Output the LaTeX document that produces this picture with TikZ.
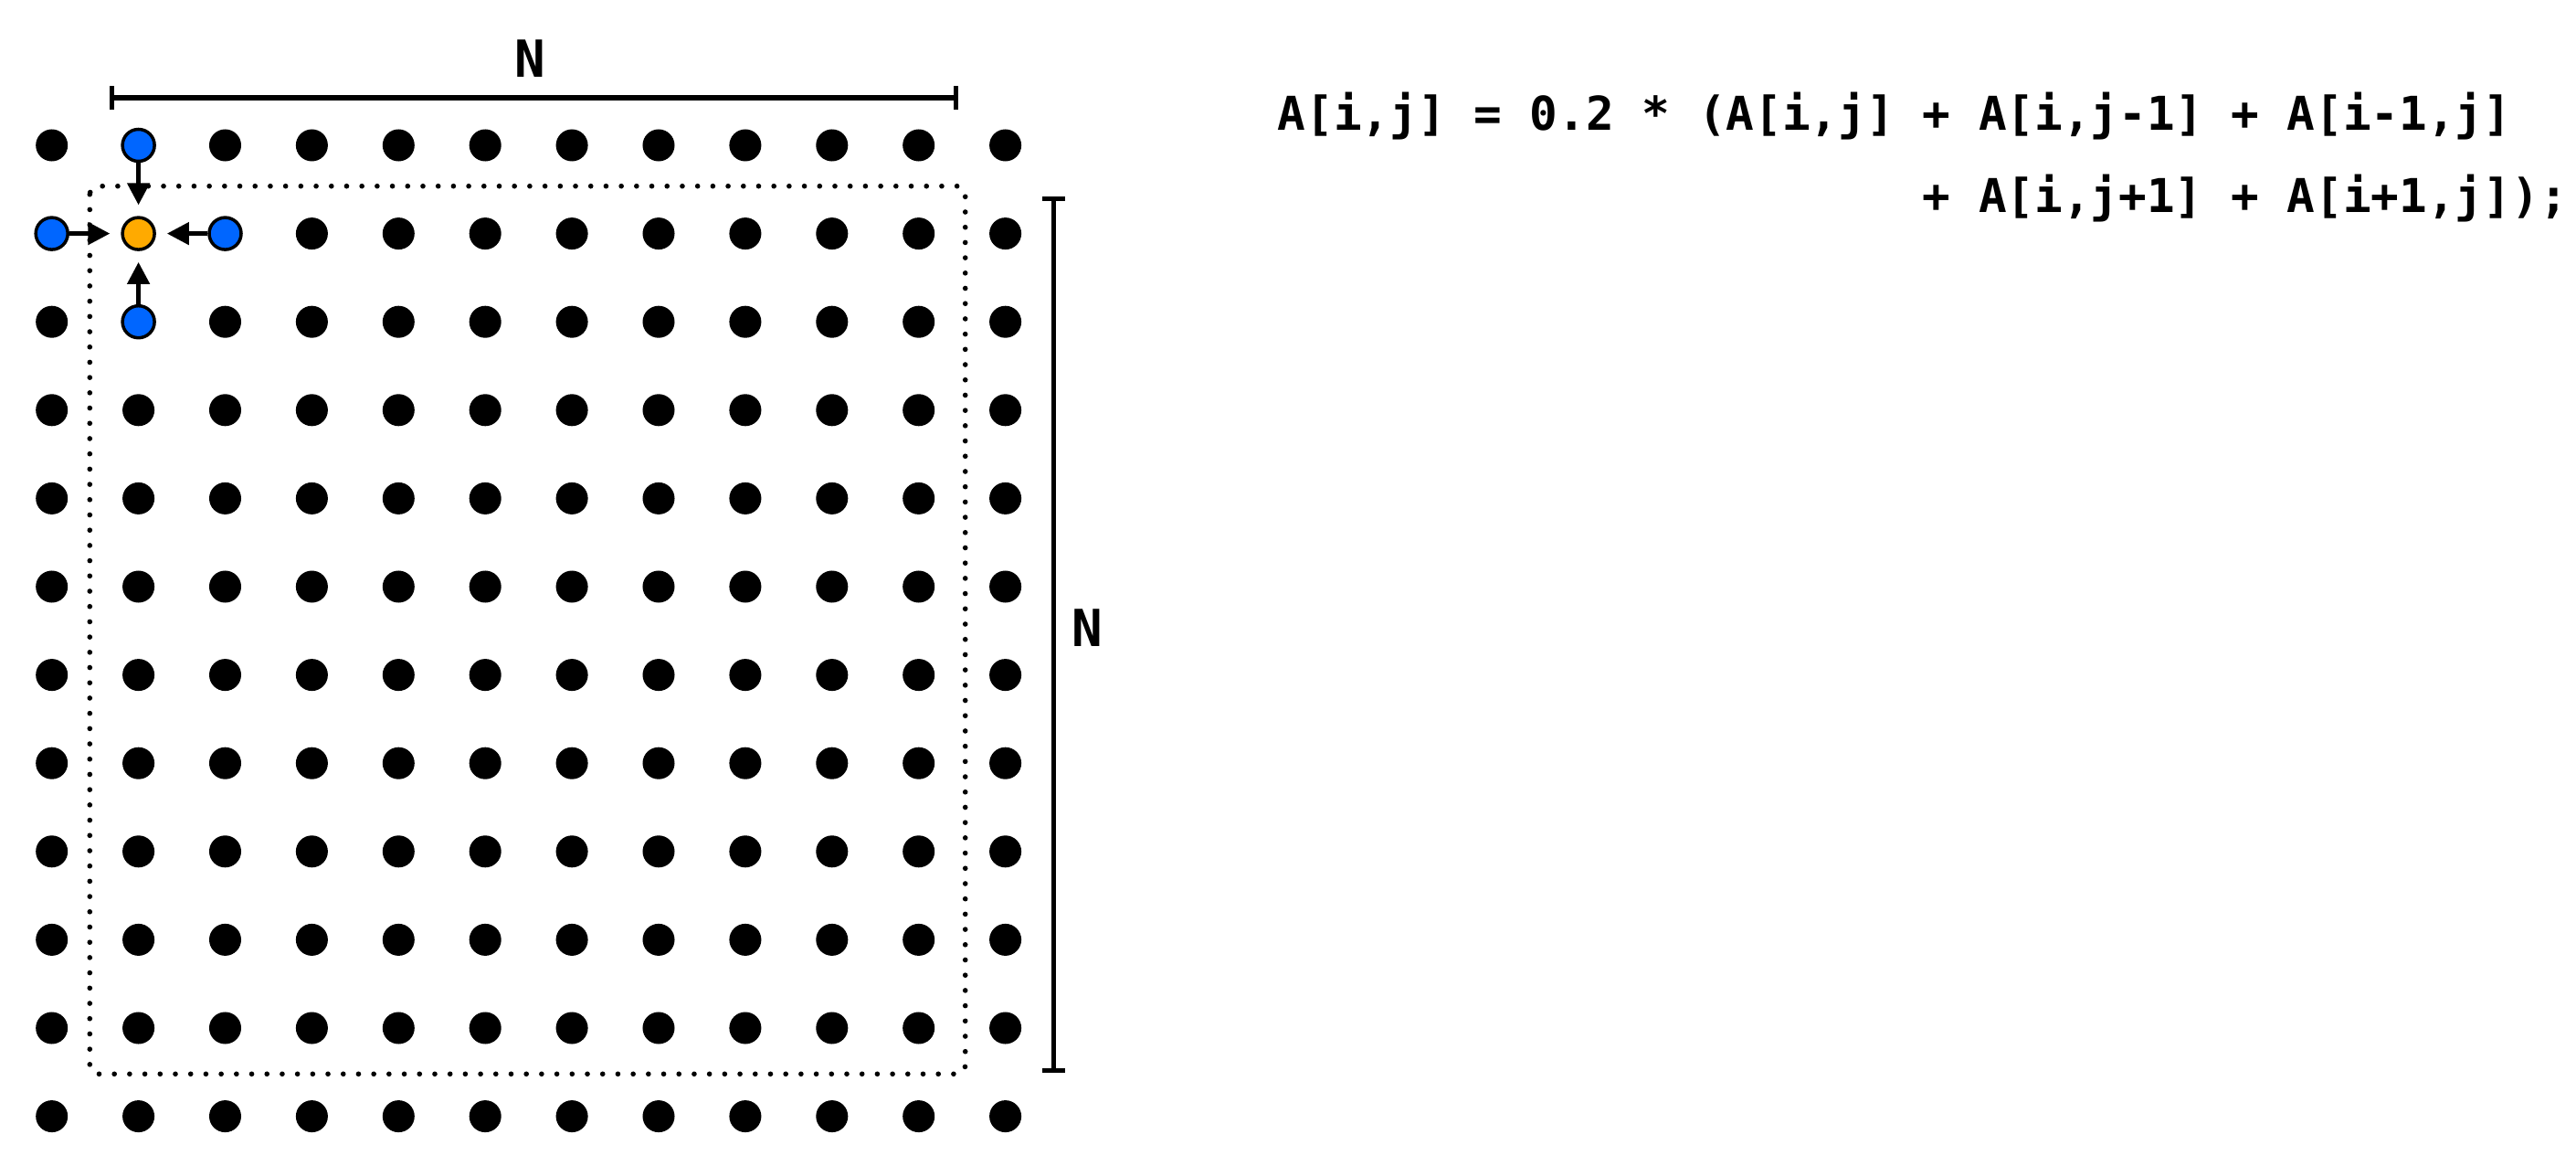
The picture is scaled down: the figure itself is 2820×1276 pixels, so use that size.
\documentclass[tikz,border=0pt]{standalone}
\usepackage{fontspec}
\usetikzlibrary{arrows.meta}
\newfontfamily\codefont{DejaVu Sans Mono}
\definecolor{nbrblue}{RGB}{0,102,255}
\definecolor{ctrorange}{RGB}{255,170,0}
\begin{document}
\begin{tikzpicture}[x=0.01cm,y=-0.01cm,
  dot/.style={circle, fill=black, inner sep=0pt, minimum size=0.35cm},
  nbr/.style={fill=nbrblue, draw=black, line width=1pt},
  ctr/.style={fill=ctrorange, draw=black, line width=1pt},
  kind-1-0/.style={nbr}, kind-0-1/.style={nbr}, kind-2-1/.style={nbr}, kind-1-2/.style={nbr},
  kind-1-1/.style={ctr},
  flow/.style={line width=1.35pt, -{Triangle[length=0.24cm,width=0.24cm]}, shorten >=0.12cm},
  dimline/.style={line width=1.45pt, {Bar[width=0.25cm]}-{Bar[width=0.25cm]}},
  halo/.style={line width=1.6pt, line cap=round, dash pattern=on 0pt off 4.75pt, rounded corners=0.09cm},
  code/.style={anchor=base west, inner sep=0pt, font=\codefont\bfseries\fontsize{14.5pt}{17pt}\selectfont},
  dimlabel/.style={inner sep=0pt, font=\codefont\bfseries\fontsize{15.9pt}{18pt}\selectfont}]
\useasboundingbox (0,0) rectangle (2820,1276);
% grid of points
\foreach \i in {0,...,11}{
  \foreach \j in {0,...,11}{
    \node[dot, kind-\i-\j/.try] (d-\i-\j) at ({56.7+94.9*\i},{159+96.6*\j}) {};
  }
}
% stencil arrows
\draw[flow] (d-1-0) -- (d-1-1);
\draw[flow] (d-0-1) -- (d-1-1);
\draw[flow] (d-2-1) -- (d-1-1);
\draw[flow] (d-1-2) -- (d-1-1);
% interior boundary
\coordinate (inTL) at (98.3,203.7);
\coordinate (inBR) at (1056.7,1175.3);
\draw[halo] (inTL) rectangle (inBR);
% dimension lines
\coordinate (hl) at (119.6,107);
\coordinate (hr) at (1049,107);
\coordinate (vt) at (1153.3,215);
\coordinate (vb) at (1153.3,1173.7);
\draw[dimline] (hl) -- (hr);
\draw[dimline] (vt) -- (vb);
\node[dimlabel] (nh) at (580,64.5) {N};
\node[dimlabel] (nv) at (1190.7,687) {N};
% formula
\node[code] (f1) at (1398,143) {A[i,j] = 0.2 * (A[i,j] + A[i,j-1] + A[i-1,j]};
\node[code] (f2) at (2104,233) {+ A[i,j+1] + A[i+1,j]);};
\end{tikzpicture}
\end{document}
